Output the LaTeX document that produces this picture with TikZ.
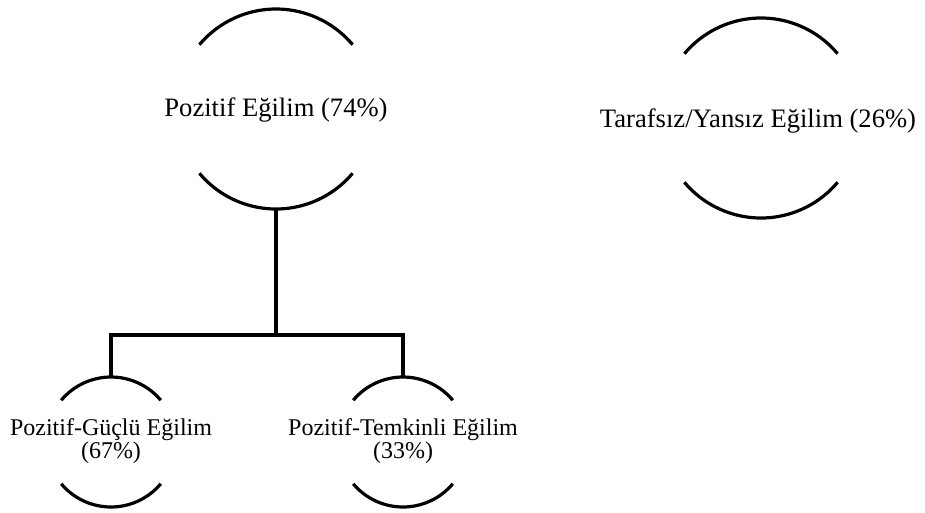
\documentclass[tikz,border=0pt]{standalone}
\usepackage{fontspec}
\setmainfont{Liberation Serif}
\tikzset{link/.style = {line width=3.2pt},
         big/.style  = {font=\fontsize{26.6}{28}\selectfont, inner sep=0pt},
         small/.style= {font=\fontsize{24}{23}\selectfont, align=center, inner sep=0pt},
         ring/.pic   = {\draw[link] (40:#1) arc (40:140:#1);
                        \draw[link] (220:#1) arc (220:320:#1);}}
\begin{document}
\begin{tikzpicture}[x=1pt,y=1pt]
        \useasboundingbox (0,0) rectangle (925,-512);

        \node[big](pos)at(276,-110){Pozitif Eğilim (74\%)};
        \pic at (276,-109) {ring=100pt};
        \coordinate (posS) at (276,-209);

        \node[big](taraf)at(758,-121){Tarafsız/Yansız Eğilim (26\%)};
        \pic at (761,-118) {ring=100pt};

        \node[small](gucl)at(111,-441){Pozitif-Güçlü Eğilim\\(67\%)};
        \pic at (111,-442) {ring=65pt};
        \coordinate (guclN) at (111,-377);

        \node[small](temk)at(403,-441){Pozitif-Temkinli Eğilim\\(33\%)};
        \pic at (403,-442) {ring=65pt};
        \coordinate (temkN) at (403,-377);

        \coordinate (fork) at (276,-335);
        \draw[link](posS)--(fork);
        \draw[link](guclN)|-(fork)-|(temkN);
    \end{tikzpicture}
\end{document}
